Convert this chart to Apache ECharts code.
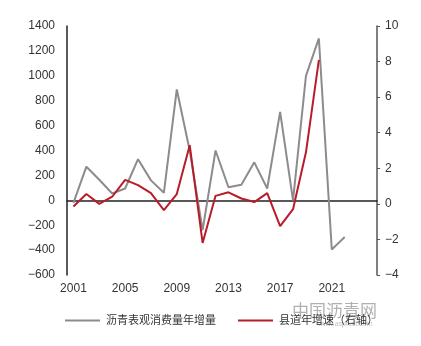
<!DOCTYPE html>
<html>
<head>
<meta charset="utf-8">
<script src="https://cdn.jsdelivr.net/npm/echarts@6/dist/echarts.min.js"></script>
<style>
html, body { margin: 0; padding: 0; background: #fff; }
#chart { width: 421px; height: 346px; }
</style>
</head>
<body>
<div id="chart"></div>
<script>
var years = [];
for (var y = 2001; y <= 2024; y++) { years.push(String(y)); }

// 沥青表观消费量年增量 (left axis), 2001-2022
var asphaltData = [-20, 270, 165, 55, 95, 330, 160, 60, 890, 400, -240, 400,
                   105, 125, 305, 95, 710, 0, 1000, 1300, -395, -295];
// 县道年增速 (right axis), 2001-2020
var roadData = [-0.15, 0.55, 0, 0.4, 1.35, 1.05, 0.6, -0.35, 0.55, 3.3, -2.2, 0.45,
                0.65, 0.3, 0.1, 0.6, -1.25, -0.3, 2.9, 8.1];

var leftTicks = { min: -600, max: 1400, interval: 200 };
var rightTicks = { min: -4, max: 10, interval: 2 };

var FONT = "Liberation Sans, Noto Sans CJK SC, sans-serif";

var chart = echarts.init(document.getElementById("chart"));
var option = {
    backgroundColor: "#fff",
    textStyle: { fontFamily: FONT },
    animation: false,
    grid: { left: 67, right: 44, top: 26, bottom: 71 },
    legend: {
        left: 60,
        top: 310,
        icon: "rect",
        itemWidth: 35,
        itemHeight: 2,
        itemGap: 22,
        textStyle: { fontSize: 11, color: "#333", fontFamily: FONT, padding: [0, 0, 0, 1] },
        data: ["沥青表观消费量年增量", "县道年增速（右轴）"]
    },
    xAxis: [
        {
            type: "category",
            data: years,
            boundaryGap: true,
            position: "bottom",
            axisLine: { show: false, onZero: false },
            axisTick: { show: false },
            axisLabel: { interval: 3, fontSize: 12, color: "#333", margin: 8 }
        },
        {
            type: "category",
            data: years,
            boundaryGap: true,
            axisLine: { show: true, onZero: true, onZeroAxisIndex: 0,
                        lineStyle: { color: "#222", width: 1.5 } },
            axisTick: { show: false },
            axisLabel: { show: false }
        }
    ],
    yAxis: [
        {
            type: "value",
            min: leftTicks.min,
            max: leftTicks.max,
            interval: leftTicks.interval,
            axisLine: { show: true, lineStyle: { color: "#222", width: 1.5 } },
            axisTick: { show: false },
            splitLine: { show: false },
            axisLabel: { fontSize: 12, color: "#333", margin: 12,
                         formatter: function (v) { return String(v).replace("-", "\u2212"); } }
        },
        {
            type: "value",
            min: rightTicks.min,
            max: rightTicks.max,
            interval: rightTicks.interval,
            position: "right",
            axisLine: { show: true, lineStyle: { color: "#555", width: 1.5 } },
            axisTick: { show: true, length: 3, lineStyle: { color: "#555" } },
            splitLine: { show: false },
            axisLabel: { fontSize: 12, color: "#333", margin: 8,
                         formatter: function (v) { return String(v).replace("-", "\u2212"); } }
        }
    ],
    graphic: [
        {
            type: "text",
            left: 292,
            top: 302,
            silent: true,
            style: { text: "中国沥青网", fill: "rgba(150,150,150,0.75)",
                     font: "17px Noto Sans CJK SC" }
        },
        {
            type: "text",
            left: 318,
            top: 321,
            silent: true,
            style: { text: "www.asphalt.com", fill: "rgba(150,150,150,0.6)",
                     font: "7px Liberation Sans" }
        }
    ],
    series: [
        {
            name: "沥青表观消费量年增量",
            type: "line",
            xAxisIndex: 0,
            yAxisIndex: 0,
            symbol: "none",
            lineStyle: { color: "#8c8c8c", width: 2 },
            itemStyle: { color: "#8c8c8c" },
            data: asphaltData
        },
        {
            name: "县道年增速（右轴）",
            type: "line",
            xAxisIndex: 0,
            yAxisIndex: 1,
            symbol: "none",
            lineStyle: { color: "#b81c2a", width: 2 },
            itemStyle: { color: "#b81c2a" },
            data: roadData
        }
    ]
};
chart.setOption(option);
</script>
</body>
</html>
